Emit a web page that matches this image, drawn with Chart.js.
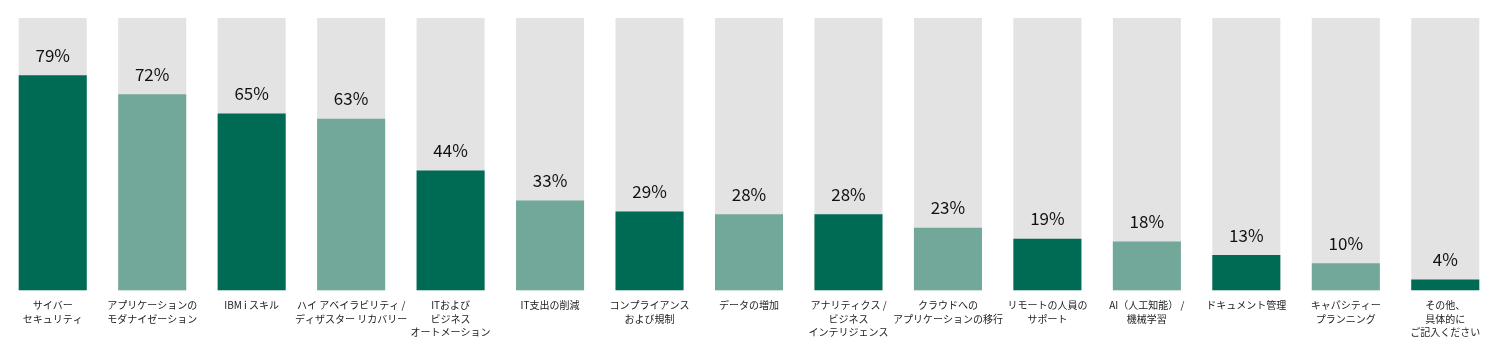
<!DOCTYPE html>
<html>
<head>
<meta charset="utf-8">
<script src="https://cdn.jsdelivr.net/npm/chart.js@4"></script>
<style>
  html, body { margin: 0; padding: 0; background: #fff; }
  #wrap { width: 1500px; height: 355px; }
</style>
</head>
<body>
<div id="wrap"><canvas id="grafico"></canvas></div>
<script>
// dados
const categorias = [
  ['サイバー', 'セキュリティ'],
  ['アプリケーションの', 'モダナイゼーション'],
  ['IBM i スキル'],
  ['ハイ アベイラビリティ /', 'ディザスター リカバリー'],
  ['ITおよび', 'ビジネス', 'オートメーション'],
  ['IT支出の削減'],
  ['コンプライアンス', 'および規制'],
  ['データの増加'],
  ['アナリティクス /', 'ビジネス', 'インテリジェンス'],
  ['クラウドへの', 'アプリケーションの移行'],
  ['リモートの人員の', 'サポート'],
  ['AI（人工知能） /', '機械学習'],
  ['ドキュメント管理'],
  ['キャパシティー', 'プランニング'],
  ['その他、', '具体的に', 'ご記入ください']
];
const valores = [79, 72, 65, 63, 44, 33, 29, 28, 28, 23, 19, 18, 13, 10, 4];
const fundo = [100, 100, 100, 100, 100, 100, 100, 100, 100, 100, 100, 100, 100, 100, 100];
const rotulos = ['79%', '72%', '65%', '63%', '44%', '33%', '29%', '28%', '28%', '23%', '19%', '18%', '13%', '10%', '4%'];

const verdeEscuro = '#006B54';
const verdeClaro = '#72A89A';
const cores = valores.map((v, i) => i % 2 === 0 ? verdeEscuro : verdeClaro);

// rótulos de porcentagem acima das barras
const pluginRotulos = {
  id: 'rotulos',
  afterDatasetsDraw(chart) {
    const ctx = chart.ctx;
    const meta = chart.getDatasetMeta(0);
    ctx.save();
    ctx.font = '17px "Noto Sans CJK JP", "Noto Sans", sans-serif';
    ctx.fillStyle = '#111';
    ctx.textAlign = 'center';
    ctx.textBaseline = 'middle';
    meta.data.forEach((bar, i) => {
      ctx.fillText(rotulos[i], bar.x, bar.y - 20);
    });
    ctx.restore();
  }
};

new Chart(document.getElementById('grafico'), {
  type: 'bar',
  data: {
    labels: categorias,
    datasets: [
      {
        data: valores,
        backgroundColor: cores,
        grouped: false,
        order: 1,
        barPercentage: 0.684,
        categoryPercentage: 1
      },
      {
        data: fundo,
        backgroundColor: '#E3E3E3',
        grouped: false,
        order: 2,
        barPercentage: 0.684,
        categoryPercentage: 1
      }
    ]
  },
  options: {
    responsive: true,
    maintainAspectRatio: false,
    animation: false,
    layout: { padding: { top: 18, left: 3, right: 5, bottom: 16 } },
    plugins: {
      legend: { display: false },
      tooltip: { enabled: false }
    },
    scales: {
      x: {
        grid: { display: false },
        border: { display: false },
        ticks: {
          autoSkip: false,
          maxRotation: 0,
          minRotation: 0,
          padding: 0,
          color: '#222',
          font: { family: '"Noto Sans CJK JP", sans-serif', size: 10, lineHeight: 1.35 }
        }
      },
      y: {
        display: false,
        min: 0,
        max: 100
      }
    }
  },
  plugins: [pluginRotulos]
});
</script>
</body>
</html>
